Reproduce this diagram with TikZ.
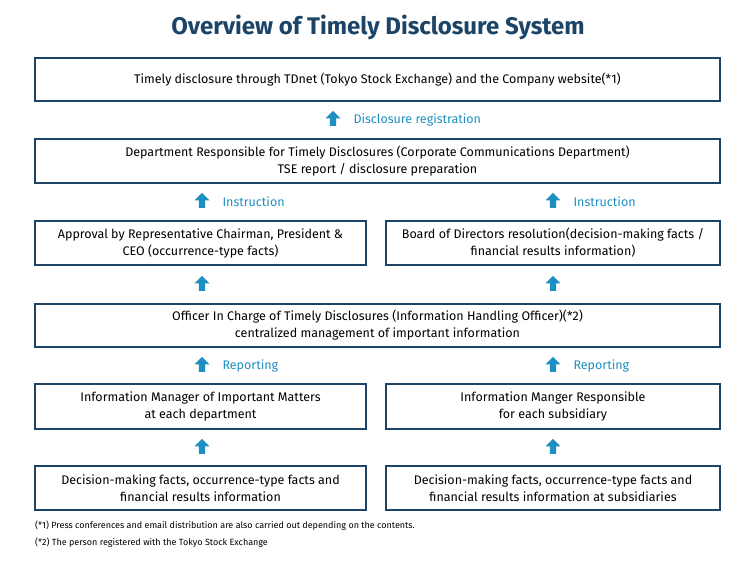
\documentclass[tikz,border=0pt]{standalone}
\usepackage{fontspec}
\setmainfont{Fira Sans}
\usetikzlibrary{positioning,shapes.arrows}
\definecolor{navy}{HTML}{1B4467}
\definecolor{skyblue}{HTML}{1E8FC1}
\begin{document}
\begin{tikzpicture}[x=1pt,y=-1pt,
  box/.style={draw=navy,line width=1.6pt,fill=white,align=center,font=\fontsize{12.5}{17}\selectfont,inner sep=0pt},
  upa/.style={single arrow,fill=skyblue,draw=none,shape border rotate=90,minimum width=15pt,minimum height=15pt,single arrow head extend=3pt,inner sep=2pt},
  lab/.style={text=skyblue,font=\fontsize{12.5}{15}\selectfont,anchor=west}]
\useasboundingbox (0,0) rectangle (756,566);
\node[text=navy,font=\bfseries\fontsize{24}{28}\selectfont] (title) at (378,27) {Overview of Timely Disclosure System};

% boxes
\node[box,minimum width=685pt,minimum height=43pt] (tdnet) at (377.5,79.5) {Timely disclosure through TDnet (Tokyo Stock Exchange) and the Company website(*1)};
\node[box,minimum width=685pt,minimum height=44pt] (dept) at (377.5,161) {Department Responsible for Timely Disclosures (Corporate Communications Department)\\TSE report / disclosure preparation};
\node[box,minimum width=331pt,minimum height=44pt] (ceo) at (200.5,243) {Approval by Representative Chairman, President \&\\CEO (occurrence-type facts)};
\node[box,minimum width=334pt,minimum height=44pt] (board) at (553,243) {Board of Directors resolution(decision-making facts /\\financial results information)};
\node[box,minimum width=685pt,minimum height=43pt] (officer) at (377.5,325.5) {Officer In Charge of Timely Disclosures (Information Handling Officer)(*2)\\centralized management of important information};
\node[box,minimum width=331pt,minimum height=45pt] (mgr) at (200.5,406.5) {Information Manager of Important Matters\\at each department};
\node[box,minimum width=334pt,minimum height=45pt] (sub) at (553,406.5) {Information Manger Responsible\\for each subsidiary};
\node[box,minimum width=331pt,minimum height=44pt] (facts) at (200.5,488) {Decision-making facts, occurrence-type facts and\\financial results information};
\node[box,minimum width=334pt,minimum height=44pt] (subfacts) at (553,488) {Decision-making facts, occurrence-type facts and\\financial results information at subsidiaries};

% arrows
\node[upa] (a1) at (333,120) {};
\node[lab] at (350,120) {Disclosure registration};
\node[upa] (a2) at (202,202) {};
\node[lab] at (219,202) {Instruction};
\node[upa] (a3) at (553,202) {};
\node[lab] at (570,202) {Instruction};
\node[upa] (a4) at (202,285) {};
\node[upa] (a5) at (553,285) {};
\node[upa] (a6) at (202,366) {};
\node[lab] at (219,366) {Reporting};
\node[upa] (a7) at (553,366) {};
\node[lab] at (570,366) {Reporting};
\node[upa] (a8) at (202,448) {};
\node[upa] (a9) at (553,448) {};

% notes
\node[anchor=west,font=\fontsize{9}{11}\selectfont,inner sep=0pt] (n1) at (35,526) {(*1) Press conferences and email distribution are also carried out depending on the contents.};
\node[anchor=west,font=\fontsize{9}{11}\selectfont,inner sep=0pt] (n2) at (35,543) {(*2) The person registered with the Tokyo Stock Exchange};
\end{tikzpicture}
\end{document}
